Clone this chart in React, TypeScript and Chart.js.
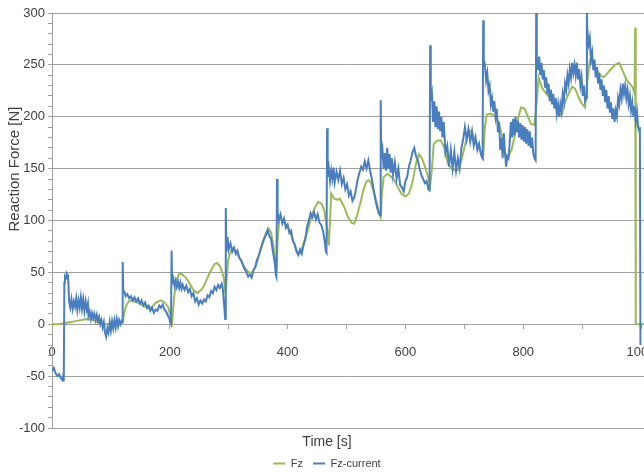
import { useEffect, useRef } from 'react';
import { Chart, registerables } from 'chart.js';

Chart.register(...registerables);

// ---- data -------------------------------------------------------------
const seriesNames = ['Fz', 'Fz-current'];
const xTitle = 'Time [s]';
const yTitle = 'Reaction Force [N]';

const xMin = 0;
const xMax = 1005;
const xTickValues = [0, 100, 200, 300, 400, 500, 600, 700, 800, 900, 1000];
const xLabelStep = 200;
const yMin = -100;
const yMax = 300;
const yTickStep = 10;
const yLabelStep = 50;

// Fz (green) [time s, force N]
const fz: [number, number][] = [
  [0, 0], [10, 0], [20, 1], [30, 2], [40, 3], [50, 4], [60, 5], [70, 4], [78, 2], [85, 0],
  [100, 0], [118, 0], [120, 3], [123, 12], [126, 18], [130, 22], [134, 23], [140, 22], [146, 21], [152, 19],
  [158, 17], [164, 15], [170, 17], [177, 21], [185, 23], [191, 21], [197, 17], [201, 8], [204, 2], [207, 25],
  [211, 42], [216, 49], [221, 48], [227, 45], [233, 40], [240, 33], [247, 30], [253, 33], [258, 37], [264, 45],
  [270, 52], [276, 58], [280, 59], [285, 56], [289, 50], [292, 44], [294, 30], [296, 40], [299, 62], [302, 68],
  [306, 73], [310, 71], [316, 66], [322, 60], [328, 54], [334, 50], [340, 50], [346, 56], [352, 68], [358, 80],
  [364, 89], [368, 92], [372, 88], [376, 75], [379, 62], [381, 50], [383, 80], [386, 103], [391, 100], [396, 97],
  [401, 93], [406, 86], [411, 78], [416, 70], [419, 67], [423, 70], [428, 80], [434, 90], [440, 103], [446, 112],
  [452, 118], [458, 116], [462, 110], [465, 100], [468, 88], [470, 76], [472, 100], [474, 126], [479, 121], [484, 120],
  [489, 121], [496, 113], [502, 104], [508, 98], [513, 97], [518, 105], [523, 116], [528, 128], [533, 137], [537, 139],
  [541, 137], [546, 128], [551, 118], [555, 108], [558, 103], [560, 125], [563, 142], [570, 145], [576, 142], [582, 138],
  [588, 131], [594, 125], [600, 123], [606, 126], [612, 137], [618, 155], [623, 164], [628, 160], [633, 152], [638, 143],
  [642, 134], [645, 150], [648, 174], [654, 177], [660, 177], [666, 170], [672, 155], [678, 150], [684, 148], [690, 149],
  [696, 160], [702, 175], [708, 187], [713, 185], [718, 178], [723, 172], [729, 165], [732, 161], [735, 190], [738, 202],
  [745, 203], [752, 200], [758, 195], [764, 182], [770, 162], [775, 162], [780, 168], [785, 180], [790, 195], [796, 209],
  [802, 208], [808, 200], [813, 193], [819, 192], [823, 215], [826, 238], [832, 228], [838, 223], [844, 219], [850, 214],
  [856, 208], [862, 201], [866, 203], [871, 214], [877, 222], [883, 229], [888, 227], [893, 220], [899, 213], [905, 209],
  [908, 230], [913, 254], [919, 250], [925, 245], [931, 240], [937, 238], [943, 242], [949, 246], [956, 250], [963, 252],
  [969, 244], [975, 236], [981, 232], [986, 228], [989, 222], [990, 286], [991, 0], [1005, 0],
];

// Fz-current (blue) [time s, force N]
const fzCurrent: [number, number][] = [
  [0, -45], [3, -42], [6, -47], [9, -50], [12, -48], [15, -52], [18, -54], [19, -50], [20, -55], [21, 40],
  [22, 46], [24, 44], [25, 49], [27, 47], [28, 38], [29, 22], [31, 16], [33, 24], [35, 15], [37, 22],
  [39, 17], [41, 25], [43, 14], [45, 23], [47, 16], [49, 26], [51, 15], [53, 24], [55, 13], [57, 22],
  [59, 14], [61, 20], [62, 8], [64, 12], [66, 5], [68, 11], [70, 6], [72, 10], [74, 4], [76, 9],
  [78, 3], [80, 7], [82, 0], [84, 4], [86, -3], [88, 2], [90, -8], [92, -12], [94, -4], [96, -8],
  [98, 2], [100, -6], [102, 3], [104, -4], [106, 4], [108, -3], [110, 5], [112, -2], [114, 4], [116, 0],
  [118, 3], [119, 2], [120, 60], [121, 30], [123, 31], [125, 27], [128, 29], [131, 25], [134, 27], [137, 23],
  [140, 26], [143, 22], [146, 25], [149, 20], [152, 23], [155, 18], [158, 21], [161, 16], [164, 18], [167, 13],
  [170, 16], [173, 11], [176, 14], [179, 13], [182, 18], [185, 16], [188, 19], [191, 14], [194, 12], [197, 8],
  [199, 6], [201, 1], [202, 0], [203, 71], [204, 40], [206, 44], [208, 37], [210, 42], [212, 36], [214, 41],
  [216, 35], [218, 40], [220, 34], [222, 38], [225, 33], [228, 37], [231, 31], [234, 34], [237, 27], [240, 30],
  [243, 22], [246, 25], [249, 19], [252, 23], [255, 20], [258, 24], [261, 22], [264, 28], [267, 26], [270, 32],
  [273, 30], [276, 36], [279, 33], [282, 38], [285, 35], [288, 39], [290, 34], [292, 20], [294, 5], [295, 112],
  [296, 70], [298, 84], [300, 72], [303, 78], [306, 70], [309, 74], [312, 68], [315, 71], [318, 64], [321, 62],
  [324, 57], [327, 53], [330, 50], [333, 46], [336, 48], [339, 45], [342, 52], [345, 55], [348, 62], [351, 66],
  [354, 72], [357, 77], [360, 82], [363, 86], [366, 91], [369, 85], [372, 82], [375, 70], [378, 60], [380, 48],
  [381, 46], [382, 140], [383, 108], [385, 100], [388, 106], [391, 97], [394, 102], [397, 93], [400, 96], [403, 88],
  [406, 90], [409, 80], [412, 77], [415, 70], [418, 67], [421, 72], [424, 68], [427, 76], [430, 82], [433, 94],
  [436, 100], [439, 107], [442, 103], [445, 108], [448, 101], [451, 106], [454, 98], [457, 96], [460, 90], [463, 80],
  [465, 70], [466, 69], [467, 189], [468, 142], [470, 150], [472, 138], [474, 148], [476, 140], [478, 151], [480, 137],
  [483, 147], [486, 139], [489, 148], [492, 135], [495, 141], [498, 130], [501, 135], [504, 124], [507, 128], [510, 119],
  [513, 122], [516, 130], [519, 140], [522, 146], [525, 152], [528, 149], [531, 157], [534, 150], [537, 158], [540, 148],
  [543, 140], [546, 130], [549, 120], [552, 112], [555, 107], [557, 105], [558, 216], [559, 160], [561, 168], [563, 150],
  [565, 165], [567, 148], [569, 170], [571, 150], [573, 164], [575, 146], [577, 160], [579, 144], [582, 156], [585, 140],
  [588, 150], [591, 134], [594, 132], [597, 128], [600, 138], [603, 142], [606, 152], [609, 158], [612, 166], [615, 170],
  [618, 162], [621, 158], [624, 150], [627, 144], [630, 140], [633, 136], [636, 138], [639, 130], [641, 129], [642, 269],
  [643, 215], [645, 222], [647, 195], [649, 215], [651, 190], [653, 210], [655, 188], [657, 205], [659, 186], [661, 200],
  [663, 180], [665, 195], [668, 165], [671, 172], [674, 152], [677, 168], [680, 150], [683, 166], [686, 148], [689, 160],
  [692, 150], [695, 170], [698, 178], [701, 190], [704, 178], [707, 188], [710, 176], [713, 186], [716, 172], [719, 180],
  [722, 168], [725, 174], [728, 164], [730, 161], [731, 160], [732, 293], [733, 255], [735, 250], [737, 235], [739, 242],
  [741, 225], [743, 230], [745, 212], [747, 218], [749, 205], [751, 215], [753, 200], [755, 208], [757, 185], [759, 195],
  [761, 168], [763, 180], [765, 160], [767, 184], [769, 165], [771, 152], [773, 162], [775, 160], [777, 175], [779, 195],
  [781, 180], [783, 198], [785, 182], [787, 200], [789, 185], [791, 196], [793, 180], [795, 194], [797, 178], [799, 192],
  [801, 176], [803, 190], [805, 174], [807, 188], [809, 172], [811, 186], [813, 170], [815, 180], [817, 165], [819, 160],
  [821, 158], [822, 300], [823, 255], [825, 245], [827, 258], [829, 240], [831, 252], [833, 236], [835, 245], [837, 228],
  [839, 238], [841, 222], [843, 232], [845, 215], [847, 226], [849, 212], [851, 222], [853, 208], [855, 218], [857, 203],
  [859, 212], [861, 200], [863, 212], [865, 205], [867, 222], [869, 215], [871, 232], [873, 226], [875, 240], [877, 232],
  [879, 246], [881, 238], [883, 252], [885, 242], [887, 250], [889, 240], [891, 252], [893, 236], [895, 246], [897, 230],
  [899, 238], [901, 220], [903, 230], [905, 215], [907, 218], [908, 300], [909, 282], [911, 270], [913, 276], [915, 255],
  [917, 262], [919, 245], [921, 255], [923, 238], [925, 248], [927, 232], [929, 242], [931, 226], [933, 236], [935, 220],
  [937, 230], [939, 214], [941, 226], [943, 208], [945, 220], [947, 204], [949, 214], [951, 198], [953, 208], [955, 195],
  [957, 206], [959, 200], [961, 218], [963, 212], [965, 226], [967, 218], [969, 232], [971, 222], [973, 230], [975, 218],
  [977, 226], [979, 212], [981, 220], [983, 206], [985, 214], [987, 200], [989, 210], [991, 196], [993, 205], [995, 190],
  [997, 186], [998, 190], [999, -20],
];

// ---- styles -----------------------------------------------------------
const GREEN = '#9bbb59';
const BLUE = '#4a7ebf';
const GRID = '#a0a0a0';
const TEXT = '#404040';
const SANS = "'Liberation Sans', Arial, sans-serif";

export default function App() {
  const canvasRef = useRef<HTMLCanvasElement>(null);

  useEffect(() => {
    const canvas = canvasRef.current;
    if (!canvas) return;

    const yTitlePlugin = {
      id: 'yTitleText',
      afterDraw(chart: any) {
        const ctx = chart.ctx;
        ctx.save();
        ctx.translate(15, 169);
        ctx.rotate(-Math.PI / 2);
        ctx.font = `15px ${SANS}`;
        ctx.fillStyle = TEXT;
        ctx.textAlign = 'center';
        ctx.textBaseline = 'middle';
        ctx.fillText(yTitle, 0, 0);
        ctx.restore();
      },
    };

    const chart = new Chart(canvas, {
      type: 'line',
      data: {
        datasets: [
          {
            label: seriesNames[0],
            data: fz.map(([x, y]) => ({ x, y })),
            borderColor: GREEN,
            backgroundColor: GREEN,
            borderWidth: 2,
            pointRadius: 0,
            tension: 0,
            order: 2,
          },
          {
            label: seriesNames[1],
            data: fzCurrent.map(([x, y]) => ({ x, y })),
            borderColor: BLUE,
            backgroundColor: BLUE,
            borderWidth: 2,
            pointRadius: 0,
            tension: 0,
            order: 1,
          },
        ],
      },
      options: {
        responsive: false,
        animation: false,
        devicePixelRatio: 1,
        layout: { padding: { left: 10, top: 13, right: 0, bottom: -7 } },
        plugins: {
          legend: {
            position: 'bottom',
            labels: {
              usePointStyle: true,
              pointStyle: 'line',
              pointStyleWidth: 12,
              padding: 10,
              color: TEXT,
              font: { family: SANS, size: 11 },
              sort: (a: any, b: any) => a.datasetIndex - b.datasetIndex,
            },
          },
          title: {
            display: true,
            text: xTitle,
            position: 'bottom',
            weight: 500,
            color: TEXT,
            font: { family: SANS, size: 14, weight: 'normal' },
            padding: { top: 5.6, bottom: -2.4 },
          } as any,
          tooltip: { enabled: false },
        },
        scales: {
          x: {
            type: 'linear',
            position: { y: 0 } as any,
            min: xMin,
            max: xMax,
            grid: { display: true, drawOnChartArea: false, drawTicks: true, tickLength: 4, color: GRID },
            border: { display: true, color: GRID, width: 1 },
            afterBuildTicks: (s: any) => {
              s.ticks = xTickValues.map((value) => ({ value }));
            },
            ticks: {
              autoSkip: false,
              maxRotation: 0,
              padding: 16,
              color: TEXT,
              font: { family: SANS, size: 13 },
              callback: (v: any) => (Number(v) % xLabelStep === 0 ? String(v) : ''),
            },
            afterFit: (s: any) => {
              s.height = 0;
              s.paddingLeft = 0;
              s.paddingRight = 0;
            },
          },
          y: {
            type: 'linear',
            position: 'left',
            min: yMin,
            max: yMax,
            grid: {
              color: (c: any) => (c.tick && c.tick.value % yLabelStep === 0 ? GRID : 'rgba(0,0,0,0)'),
              tickColor: GRID,
              tickLength: 4,
            },
            border: { display: true, color: GRID, width: 1 },
            ticks: {
              stepSize: yTickStep,
              autoSkip: false,
              padding: 3,
              color: TEXT,
              font: { family: SANS, size: 13 },
              callback: (v: any) => (Number(v) % yLabelStep === 0 ? String(v) : ''),
            },
            afterFit: (s: any) => {
              s.width = 42;
            },
          },
        },
      },
      plugins: [yTitlePlugin],
    });

    return () => chart.destroy();
  }, []);

  return (
    <div style={{ position: 'fixed', left: 0, top: 0, width: 644, height: 472, background: '#fff' }}>
      <canvas ref={canvasRef} width={644} height={472} />
    </div>
  );
}
